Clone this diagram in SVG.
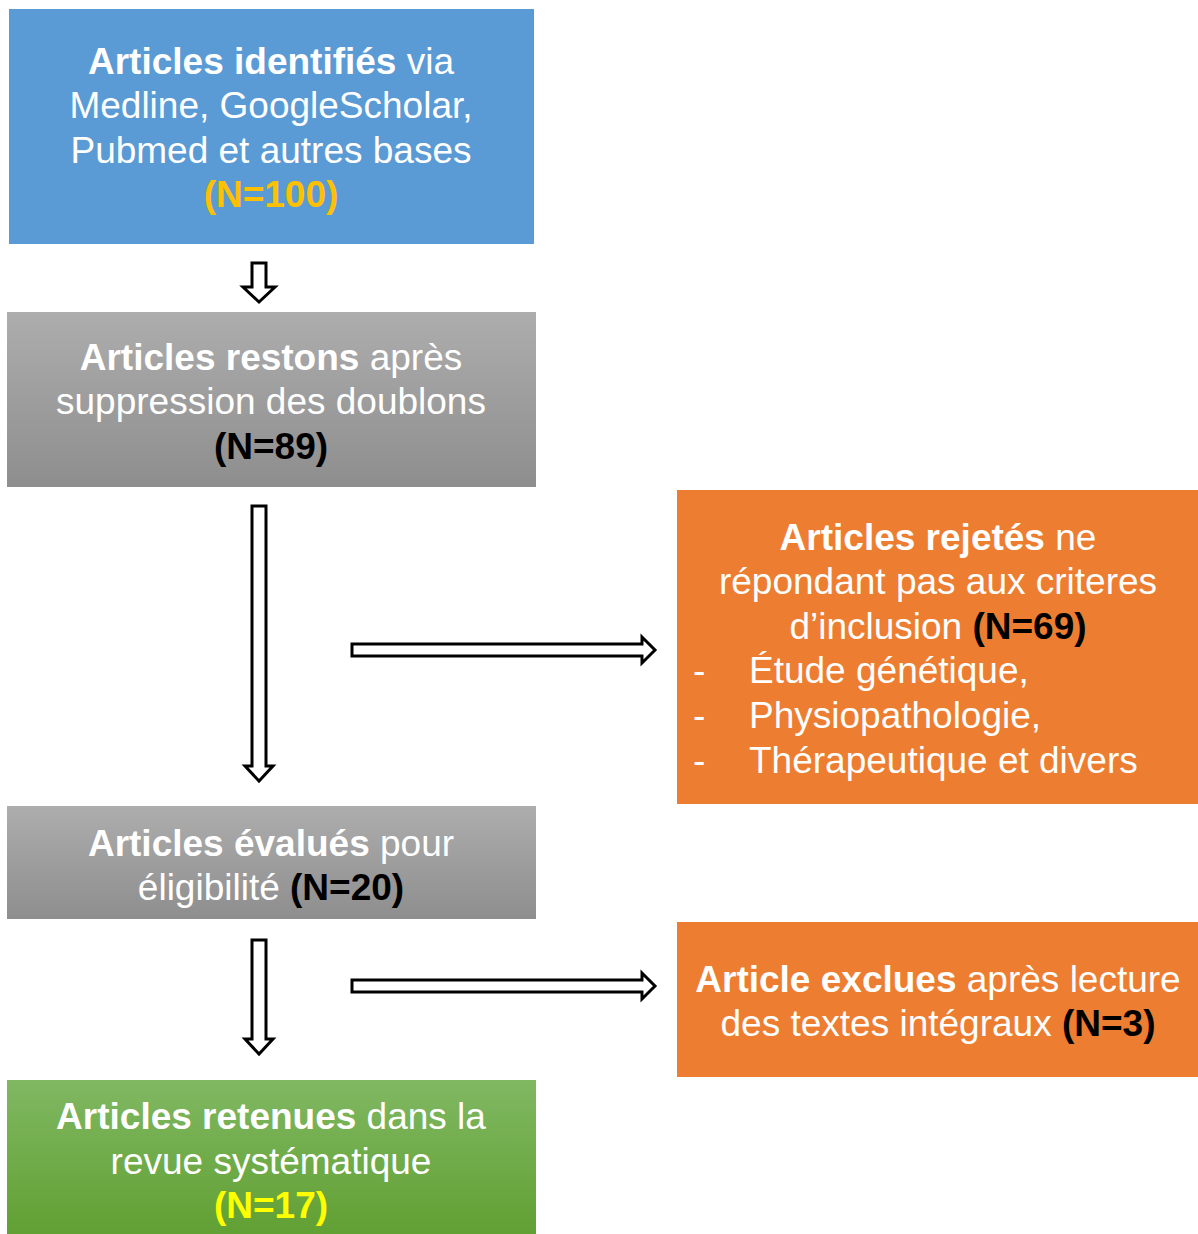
<svg xmlns="http://www.w3.org/2000/svg" width="1198" height="1234" viewBox="0 0 1198 1234">
<defs>
<linearGradient id="gray" x1="0" y1="0" x2="0" y2="1"><stop offset="0" stop-color="#ADADAD"/><stop offset="1" stop-color="#8E8E8E"/></linearGradient>
<linearGradient id="green" x1="0" y1="0" x2="0" y2="1"><stop offset="0" stop-color="#80B862"/><stop offset="1" stop-color="#61A033"/></linearGradient>
<style>
text{font-family:"Liberation Sans",Arial,sans-serif;font-size:37px;fill:#fff;text-anchor:middle}
.b{font-weight:bold}
.k{fill:#000;font-weight:bold}
.y{fill:#FFC000;font-weight:bold}
.yy{fill:#FFFF00;font-weight:bold}
.l{text-anchor:start}
.arr{fill:#fff;stroke:#000;stroke-width:3;stroke-linejoin:miter}
</style>
</defs>
<g id="n1">
<rect x="9" y="9" width="525" height="235" fill="#5B9BD5"/>
<text x="271" y="74"><tspan class="b">Articles identifiés</tspan> via</text>
<text x="271" y="118">Medline, GoogleScholar,</text>
<text x="271" y="163">Pubmed et autres bases</text>
<text x="271" y="207" class="y">(N=100)</text>
</g>
<g id="n2">
<rect x="7" y="312" width="529" height="175" fill="url(#gray)"/>
<text x="271" y="370"><tspan class="b">Articles restons</tspan> après</text>
<text x="271" y="414">suppression des doublons</text>
<text x="271" y="459" class="k">(N=89)</text>
</g>
<g id="n3">
<rect x="677" y="490" width="521" height="314" fill="#ED7D31"/>
<text x="938" y="550"><tspan class="b">Articles rejetés</tspan> ne</text>
<text x="938" y="594">répondant pas aux criteres</text>
<text x="938" y="639">d’inclusion <tspan class="k">(N=69)</tspan></text>
<text x="693" y="683" class="l">-</text><text x="749" y="683" class="l">Étude génétique,</text>
<text x="693" y="728" class="l">-</text><text x="749" y="728" class="l">Physiopathologie,</text>
<text x="693" y="773" class="l">-</text><text x="749" y="773" class="l">Thérapeutique et divers</text>
</g>
<g id="n4">
<rect x="7" y="806" width="529" height="113" fill="url(#gray)"/>
<text x="271" y="856"><tspan class="b">Articles évalués</tspan> pour</text>
<text x="271" y="900">éligibilité <tspan class="k">(N=20)</tspan></text>
</g>
<g id="n5">
<rect x="677" y="922" width="521" height="155" fill="#ED7D31"/>
<text x="938" y="992"><tspan class="b">Article exclues</tspan> après lecture</text>
<text x="938" y="1036">des textes intégraux <tspan class="k">(N=3)</tspan></text>
</g>
<g id="n6">
<rect x="7" y="1080" width="529" height="154" fill="url(#green)"/>
<text x="271" y="1129"><tspan class="b">Articles retenues</tspan> dans la</text>
<text x="271" y="1174">revue systématique</text>
<text x="271" y="1218" class="yy">(N=17)</text>
</g>
<g id="connectors">
<path class="arr" d="M252,263 H266 V287 H275 L259,302 L243,287 H252 Z"/>
<path class="arr" d="M252,506 H266 V766 H273 L259,781 L245,766 H252 Z"/>
<path class="arr" d="M352,644 H642 V637 L655,650 L642,663 V656 H352 Z"/>
<path class="arr" d="M252,940 H266 V1039 H273 L259,1054 L245,1039 H252 Z"/>
<path class="arr" d="M352,980 H642 V973 L655,986 L642,999 V992 H352 Z"/>
</g>
</svg>
